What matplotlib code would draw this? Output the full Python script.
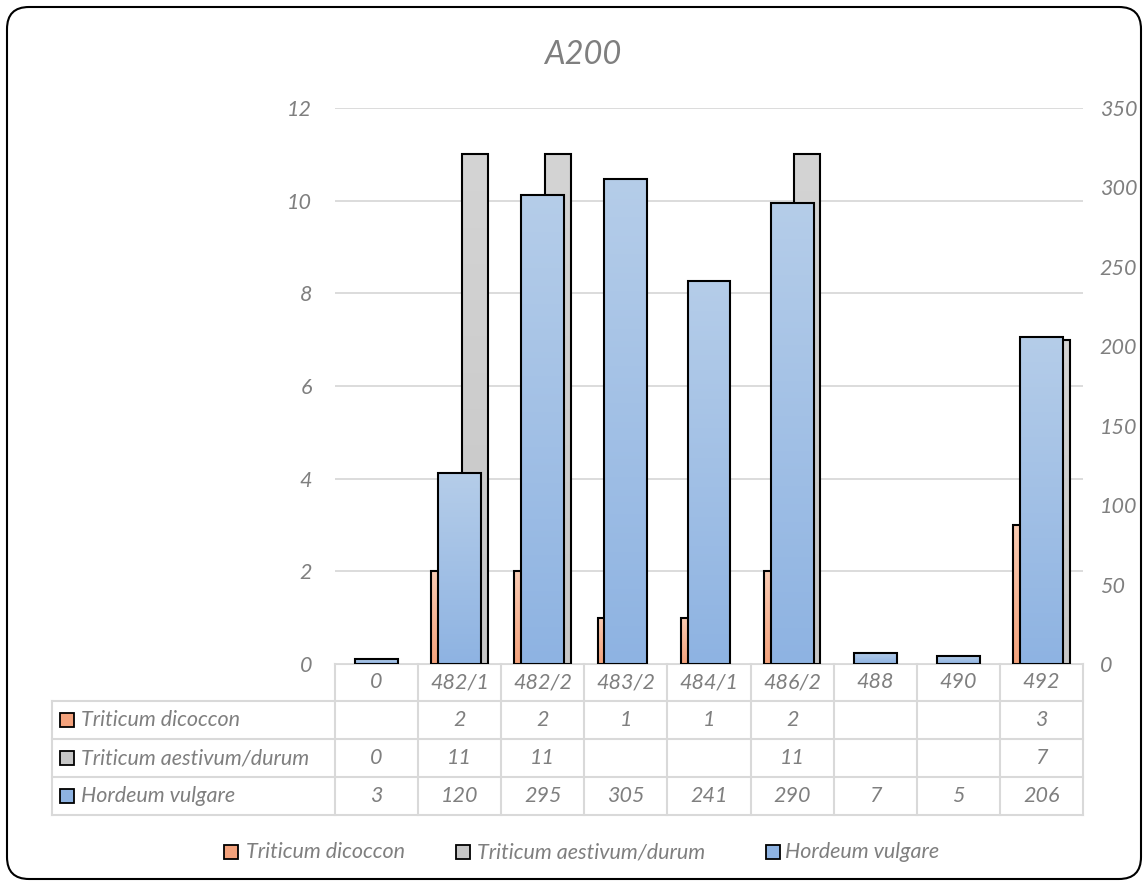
import numpy as np
import matplotlib.pyplot as plt
from matplotlib.colors import LinearSegmentedColormap
from matplotlib.patches import FancyBboxPatch, Rectangle
from matplotlib.lines import Line2D
from matplotlib.transforms import IdentityTransform, blended_transform_factory

categories = ['0', '482/1', '482/2', '483/2', '484/1', '486/2', '488', '490', '492']
dicoccon = [np.nan, 2, 2, 1, 1, 2, np.nan, np.nan, 3]
aestivum = [0, 11, 11, np.nan, np.nan, 11, np.nan, np.nan, 7]
hordeum = [3, 120, 295, 305, 241, 290, 7, 5, 206]
series_names = ['Triticum dicoccon', 'Triticum aestivum/durum', 'Hordeum vulgare']

left_ticks = np.arange(0, 13, 2)
right_ticks = np.arange(0, 351, 50)

# (top, bottom) colours of the gradient fills
fills = [('#f9cbb3', '#f3a27c'), ('#d4d4d4', '#c6c6c6'), ('#b5cde9', '#8eb3e2')]
grey = '#7f7f7f'
line_grey = '#d9d9d9'
fs = 15.5

plt.rcParams['font.family'] = ['Lato', 'DejaVu Sans']
plt.rcParams['font.style'] = 'italic'
plt.rcParams['text.color'] = grey

W, H = 1147, 884
fig = plt.figure(figsize=(W / 100, H / 100), dpi=100)


def fx(px):
    return px / W


def fy(py):
    return 1 - py / H


ax = fig.add_axes([fx(335), fy(664), fx(1083) - fx(335), fy(108) - fy(664)])
ax2 = ax.twinx()


def shade(axis, bars, top, bottom):
    cmap = LinearSegmentedColormap.from_list('g', [bottom, top])
    grad = np.linspace(0, 1, 256).reshape(-1, 1)
    for b in bars:
        h = b.get_height()
        if np.isnan(h) or h == 0:
            b.set_visible(False)
            continue
        x0, w = b.get_x(), b.get_width()
        im = axis.imshow(grad, cmap=cmap, extent=[x0, x0 + w, 0, h], origin='lower',
                         aspect='auto', interpolation='bilinear', zorder=b.get_zorder() - 0.1)
        im.set_clip_path(b)
        b.set_facecolor('none')


x = np.arange(len(categories))
bw, off, bw_h = 0.313, 0.184, 0.517

b1 = ax.bar(x - off, dicoccon, bw, edgecolor='black', linewidth=1.5, zorder=2)
b2 = ax.bar(x + off, aestivum, bw, edgecolor='black', linewidth=1.5, zorder=2)
b3 = ax2.bar(x, hordeum, bw_h, edgecolor='black', linewidth=1.5, zorder=2)
shade(ax, b1, *fills[0])
shade(ax, b2, *fills[1])
shade(ax2, b3, *fills[2])

ax.set_xlim(-0.5, len(categories) - 0.5)
ax.set_ylim(0, 12)
ax2.set_ylim(0, 350)
ax.set_yticks(left_ticks)
ax2.set_yticks(right_ticks)
ax.set_xticks([])
ax.yaxis.grid(True, color=line_grey, linewidth=1.3)
ax.set_axisbelow(True)
for a, pad in ((ax, 16.5), (ax2, 12)):
    for s in a.spines.values():
        s.set_visible(False)
    a.tick_params(axis='y', length=0, pad=pad, labelsize=fs, labelcolor=grey)

fig.text(fx(583), fy(55), 'A200', ha='center', va='center', fontsize=23.5, color=grey)

# data table under the plot
tr = blended_transform_factory(ax.transData, fig.transFigure)
rows_y = [664, 701, 739, 777, 815]
for k in range(len(categories) + 1):
    fig.add_artist(Line2D([k - 0.5, k - 0.5], [fy(664), fy(815)], transform=tr,
                          color=line_grey, linewidth=1.5))
fig.add_artist(Line2D([-0.5, len(categories) - 0.5], [fy(664), fy(664)], transform=tr,
                      color=line_grey, linewidth=1.5, zorder=0))
for ry in rows_y[1:]:
    fig.add_artist(Line2D([fx(52), fx(1083)], [fy(ry), fy(ry)], color=line_grey, linewidth=1.5))
fig.add_artist(Line2D([fx(52), fx(52)], [fy(701), fy(815)], color=line_grey, linewidth=1.5))

for k, c in enumerate(categories):
    fig.text(k, fy(682.5), c, transform=tr, ha='center', va='center', fontsize=fs)

for r, (name, vals) in enumerate(zip(series_names, [dicoccon, aestivum, hordeum])):
    cy = (rows_y[r + 1] + rows_y[r + 2]) / 2
    fig.add_artist(Rectangle((fx(60), fy(cy + 7)), 14 / W, 14 / H, transform=fig.transFigure,
                             facecolor=fills[r][1], edgecolor='black', linewidth=1.3))
    fig.text(fx(81), fy(cy), name, ha='left', va='center', fontsize=fs)
    for k, v in enumerate(vals):
        if not np.isnan(v):
            fig.text(k, fy(cy), str(int(v)), transform=tr, ha='center', va='center', fontsize=fs)

# legend
for (sx, tx), name, f in zip([(224, 246), (456, 477), (766, 785)], series_names, fills):
    fig.add_artist(Rectangle((fx(sx), fy(859)), 14 / W, 14 / H, transform=fig.transFigure,
                             facecolor=f[1], edgecolor='black', linewidth=1.3))
    fig.text(fx(tx), fy(852), name, ha='left', va='center', fontsize=fs)

# rounded chart frame
fig.add_artist(FancyBboxPatch((7, 5), 1134, 872, boxstyle='round,pad=0,rounding_size=22',
                              transform=IdentityTransform(), facecolor='none',
                              edgecolor='black', linewidth=1.5))

fig.savefig('out.png', dpi=100)
